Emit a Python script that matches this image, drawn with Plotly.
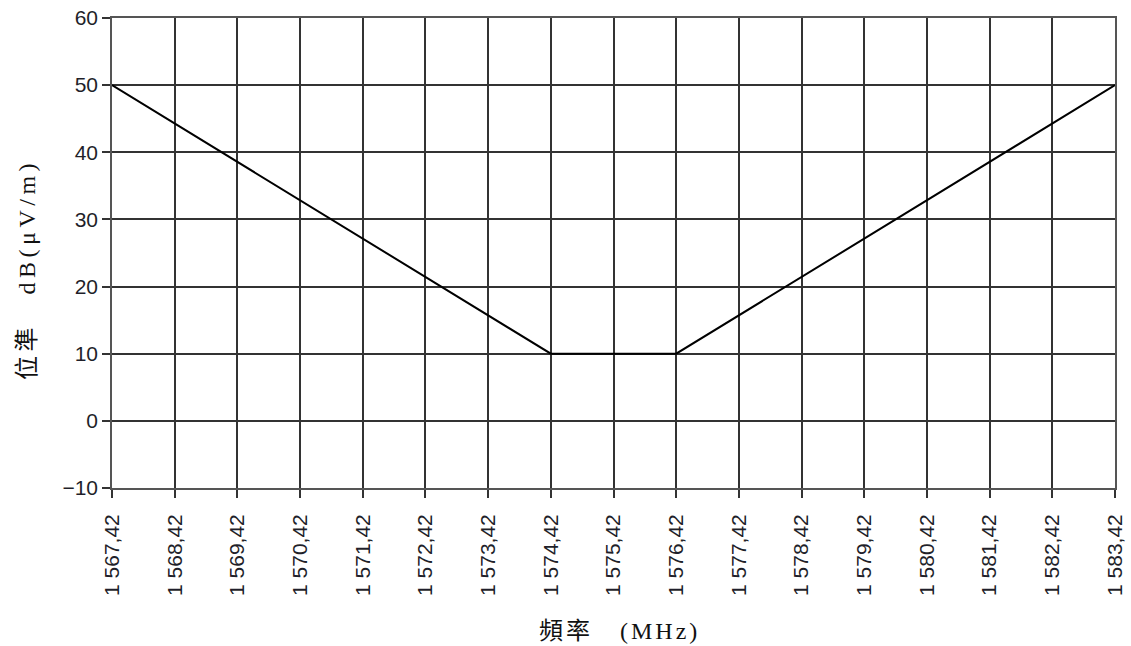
import plotly.graph_objects as go

# Data
freq_mhz = [1567.42, 1574.42, 1576.42, 1583.42]
level_db = [50, 10, 10, 50]

x_tickvals = [1567.42 + i for i in range(17)]
x_ticktext = ["1 %03d,42" % (567 + i) for i in range(17)]
y_tickvals = [-10, 0, 10, 20, 30, 40, 50, 60]

fig = go.Figure()
fig.add_trace(go.Scatter(
    x=freq_mhz, y=level_db, mode="lines",
    line=dict(color="#000000", width=2),
    hoverinfo="skip", showlegend=False,
))

axis_common = dict(
    showgrid=True, gridcolor="#333333", gridwidth=1.6,
    showline=True, linecolor="#555555", linewidth=1.6, mirror=True,
    ticks="outside", ticklen=8, tickwidth=1.6, tickcolor="#333333",
    zeroline=False, automargin=False,
    tickfont=dict(family="Liberation Sans, Arial, sans-serif", size=21, color="#1f1f2a"),
)

fig.update_layout(
    width=1131, height=646,
    margin=dict(l=112, r=16, t=18, b=158, autoexpand=False),
    paper_bgcolor="white", plot_bgcolor="white",
    xaxis=dict(range=[1567.42, 1583.42], tickmode="array",
               tickvals=x_tickvals, ticktext=x_ticktext, tickangle=-90,
               ticklabelstandoff=8,
               **axis_common),
    yaxis=dict(range=[-10, 60], tickmode="array", tickvals=y_tickvals,
               **axis_common),
    annotations=[
        dict(text='<span style="letter-spacing:4.5px">位準　dB(μV/m)</span>',
             x=0, xref="paper", xanchor="center", xshift=-85,
             y=0.464, yref="paper", yanchor="middle",
             textangle=-90, showarrow=False,
             font=dict(family="Liberation Serif, Noto Sans CJK TC, serif", size=24, color="#111")),
        dict(text='<span style="letter-spacing:3px">頻率　(MHz)</span>',
             x=0.506, xref="paper", xanchor="center",
             y=0, yref="paper", yanchor="middle", yshift=-143,
             showarrow=False,
             font=dict(family="Liberation Serif, Noto Sans CJK TC, serif", size=24, color="#111")),
    ],
)

fig.write_html("out.html")
